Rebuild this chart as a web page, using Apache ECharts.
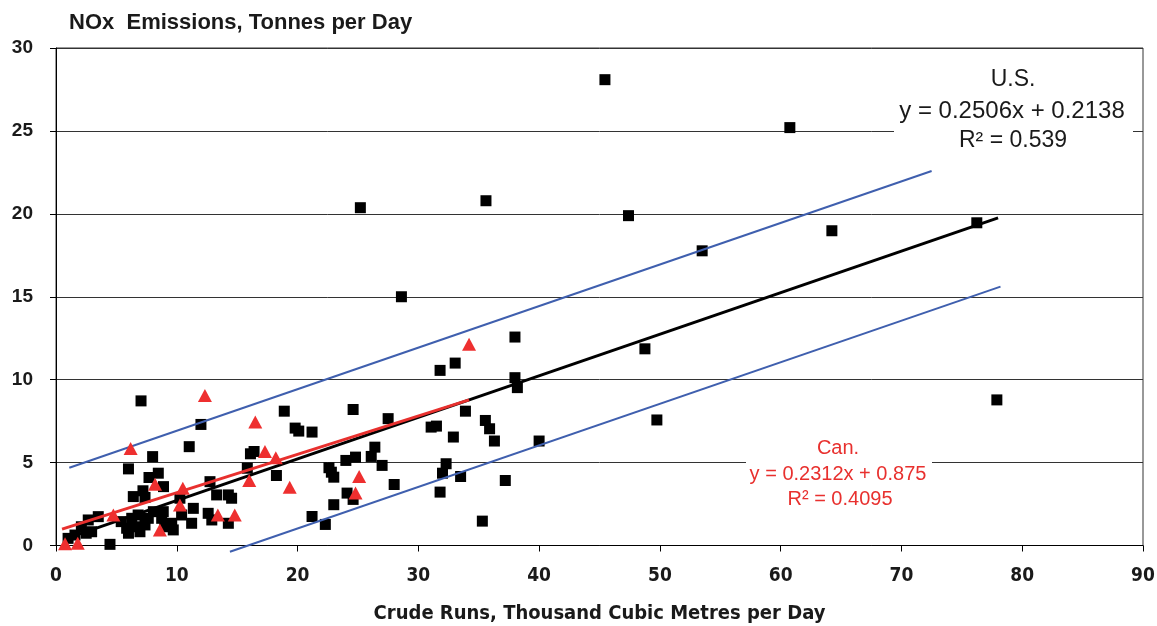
<!DOCTYPE html>
<html>
<head>
<meta charset="utf-8">
<script src="https://cdn.jsdelivr.net/npm/echarts@6/dist/echarts.min.js"></script>
<style>
html,body{margin:0;padding:0;background:#fff;}
#chart{width:1157px;height:626px;}
</style>
</head>
<body>
<div id="chart"></div>
<script>
// ---- Data ----
const titleText = 'NOx  Emissions, Tonnes per Day';
const xAxisTitle = 'Crude Runs, Thousand Cubic Metres per Day';
const xTicks = [0, 10, 20, 30, 40, 50, 60, 70, 80, 90];
const yTicks = [0, 5, 10, 15, 20, 25, 30];

// U.S. refineries (black squares)
const usX = [1.0,1.57,2.1,2.5,2.95,2.67,3.5,4.47,5.4,5.85,6.0,6.27,6.54,6.8,6.95,7.37,6.0,7.7,7.2,6.4,7.37,7.04,12.0,11.03,8.0,8.47,8.9,7.64,8.06,8.88,8.75,9.58,9.71,9.0,10.26,10.4,11.37,11.23,12.75,13.3,14.27,14.54,12.6,12.9,14.27,
  15.84,16.1,16.4,18.25,18.9,19.8,20.1,21.2,21.2,22.3,23.0,22.6,22.8,23.0,24.0,24.8,26.1,26.4,27.0,28.0,24.1,24.6,24.6,27.5,25.2,28.6,
  31.8,33.05,38.0,38.0,38.2,33.9,31.06,31.5,35.55,35.9,32.9,36.3,40.0,32.3,32.0,33.5,37.2,31.8,35.3,35.6,
  45.45,60.76,47.4,64.24,76.24,53.5,48.76,49.75,77.9];
const usY = [0.43,0.63,1.13,0.74,0.83,1.54,1.74,0.07,1.44,1.04,0.74,1.64,1.13,1.84,0.83,1.24,4.62,4.1,3.3,2.95,2.9,8.72,7.3,5.96,5.36,4.36,3.55,1.64,2.04,2.04,1.64,1.34,0.94,1.13,2.85,1.84,2.24,1.34,3.85,3.05,3.05,2.85,1.94,1.54,1.34,
  4.66,5.53,5.67,4.22,8.1,7.08,6.9,6.84,1.75,1.27,2.46,4.69,4.42,4.12,5.13,5.33,5.37,5.93,4.83,3.68,3.16,2.78,8.2,7.65,20.37,15.0,
  10.56,11.0,12.57,10.12,9.52,8.1,7.14,7.2,7.54,7.04,6.54,6.3,6.3,4.93,4.36,4.16,3.92,3.22,1.47,20.79,
  28.09,25.2,19.89,18.98,19.46,17.77,11.86,7.57,8.78];

// Canadian refineries (red triangles)
const canX = [0.75,1.8,4.75,6.18,8.2,8.6,10.26,10.5,12.33,13.4,14.8,16.0,16.5,17.3,18.2,19.35,24.8,25.1,34.2];
const canY = [0.1,0.13,1.84,5.85,3.69,0.94,2.44,3.45,9.05,1.84,1.84,3.92,7.45,5.67,5.29,3.52,3.16,4.16,12.13];

// Regression equations shown on the chart
const usSlope = 0.2506, usIntercept = 0.2138, usR2 = 0.539;
const canSlope = 0.2312, canIntercept = 0.875, canR2 = 0.4095;
const bandOffset = 4.2;
const usTrendX = [0.7, 78.0];
const canTrendX = [0.5, 34.2];
const upperBandX = [1.1, 72.5];
const lowerBandX = [14.4, 78.2];

// ---- Build ----
const usPts = usX.map((x, i) => [x, usY[i]]);
const canPts = canX.map((x, i) => [x, canY[i]]);
const lineOf = (xs, m, b) => xs.map(x => [x, +(m * x + b).toFixed(4)]);

const chart = echarts.init(document.getElementById('chart'), null, {renderer: 'canvas'});
const axisFont = '"Liberation Sans Narrow","DejaVu Sans Condensed","Liberation Sans",Arial,sans-serif';
const mainFont = '"Liberation Sans",Arial,sans-serif';

chart.setOption({
  animation: false,
  backgroundColor: '#fff',
  title: {
    text: titleText,
    left: 64, top: 7,
    textStyle: {fontFamily: mainFont, fontWeight: 'bold', fontSize: 22, color: '#1a1a1a'}
  },
  grid: {
    left: 56, right: 14, top: 48, bottom: 80.5,
    show: true, borderColor: '#333', borderWidth: 1,
    containLabel: false, outerBoundsMode: 'none'
  },
  xAxis: {
    type: 'value', min: xTicks[0], max: xTicks[xTicks.length - 1], interval: 10,
    name: xAxisTitle, nameLocation: 'middle', nameGap: 58,
    nameTextStyle: {fontFamily: axisFont, fontWeight: 'bold', fontSize: 20, color: '#1a1a1a'},
    axisLine: {show: true, lineStyle: {color: '#000', width: 1}},
    axisTick: {show: true, inside: false, length: 6, lineStyle: {color: '#000'}},
    axisLabel: {margin: 21, fontFamily: axisFont, fontWeight: 'bold', fontSize: 19, color: '#1a1a1a'},
    splitLine: {show: false}
  },
  yAxis: {
    type: 'value', min: yTicks[0], max: yTicks[yTicks.length - 1], interval: 5,
    axisLine: {show: true, lineStyle: {color: '#000', width: 1}},
    axisTick: {show: true, inside: false, length: 6, lineStyle: {color: '#000'}},
    axisLabel: {margin: 23, fontFamily: mainFont, fontWeight: 'bold', fontSize: 19, color: '#1a1a1a'},
    splitLine: {show: true, lineStyle: {color: '#333', width: 1}}
  },
  series: [
    {
      name: 'U.S.', type: 'scatter', data: usPts,
      symbol: 'rect', symbolSize: 11,
      itemStyle: {color: '#000', opacity: 1}, z: 2
    },
    {
      name: 'U.S. trend', type: 'line', data: lineOf(usTrendX, usSlope, usIntercept),
      showSymbol: false, symbol: 'none', lineStyle: {color: '#000', width: 3}, z: 3
    },
    {
      name: 'Upper band', type: 'line', data: lineOf(upperBandX, usSlope, usIntercept + bandOffset),
      showSymbol: false, symbol: 'none', lineStyle: {color: '#3f5fae', width: 2}, z: 3
    },
    {
      name: 'Lower band', type: 'line', data: lineOf(lowerBandX, usSlope, usIntercept - bandOffset),
      showSymbol: false, symbol: 'none', clip: false, lineStyle: {color: '#3f5fae', width: 2}, z: 3
    },
    {
      name: 'Can. trend', type: 'line', data: lineOf(canTrendX, canSlope, canIntercept),
      showSymbol: false, symbol: 'none', lineStyle: {color: '#e8302e', width: 3}, z: 4
    },
    {
      name: 'Can.', type: 'scatter', data: canPts,
      symbol: 'triangle', symbolSize: [14, 13],
      itemStyle: {color: '#ee2f2f', opacity: 1}, z: 5
    }
  ],
  graphic: [
    {type: 'rect', shape: {x: 894, y: 60, width: 239, height: 100}, style: {fill: '#fff'}, z: 50},
    {type: 'text', z: 51, style: {text: 'U.S.', x: 1013, y: 80, textAlign: 'center', textVerticalAlign: 'middle', font: '23px "Liberation Sans", Arial, sans-serif', fill: '#1a1a1a'}},
    {type: 'text', z: 51, style: {text: 'y = ' + usSlope + 'x + ' + usIntercept, x: 1012, y: 111, textAlign: 'center', textVerticalAlign: 'middle', font: '24px "Liberation Sans", Arial, sans-serif', fill: '#1a1a1a'}},
    {type: 'text', z: 51, style: {text: 'R\u00B2 = ' + usR2, x: 1013, y: 141, textAlign: 'center', textVerticalAlign: 'middle', font: '23px "Liberation Sans", Arial, sans-serif', fill: '#1a1a1a'}},
    {type: 'rect', shape: {x: 746, y: 436, width: 186, height: 74}, style: {fill: '#fff'}, z: 50},
    {type: 'text', z: 51, style: {text: 'Can.', x: 838, y: 448, textAlign: 'center', textVerticalAlign: 'middle', font: '20px "Liberation Sans", Arial, sans-serif', fill: '#e8302e'}},
    {type: 'text', z: 51, style: {text: 'y = ' + canSlope + 'x + ' + canIntercept, x: 838, y: 474, textAlign: 'center', textVerticalAlign: 'middle', font: '20px "Liberation Sans", Arial, sans-serif', fill: '#e8302e'}},
    {type: 'text', z: 51, style: {text: 'R\u00B2 = ' + canR2, x: 840, y: 499, textAlign: 'center', textVerticalAlign: 'middle', font: '20px "Liberation Sans", Arial, sans-serif', fill: '#e8302e'}}
  ]
});
</script>
</body>
</html>
